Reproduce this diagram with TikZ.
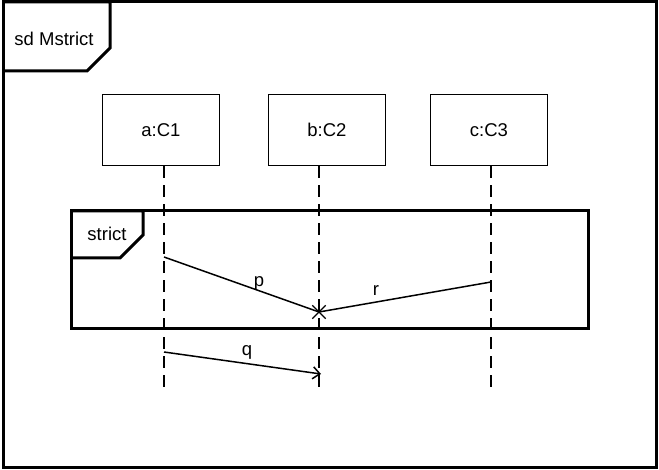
\documentclass[tikz,border=0pt]{standalone}
\usepackage{fontspec}
\setmainfont{Liberation Sans}
\usetikzlibrary{shapes.misc, arrows.meta}

\begin{document}
\begin{tikzpicture}[x=1pt, y=-1pt, >={Straight Barb[length=7pt, width=12pt]},
  box/.style = {draw, line width=1.6pt, minimum width=117pt, minimum height=71pt},
  life/.style = {line width=1.4pt, dash pattern=on 12pt off 7pt},
  frame/.style = {line width=3pt},
  msg/.style = {line width=1.5pt},
  every node/.style = {font=\fontsize{18.5}{22}\selectfont}]
\useasboundingbox (0,0) rectangle (659,470);
% outer frame
\draw[frame] (3,2) rectangle (656,467);
\draw[frame] (3,2) -- (110,2) -- (110,48) -- (87,71) -- (3,71);
\node (title) at (54,39) {sd Mstrict};
% lifelines
\node[box] (a) at (161,130) {a:C1};
\node[box] (b) at (327,130) {b:C2};
\node[box] (c) at (489,130) {c:C3};
\coordinate (la) at (164,393);
\coordinate (lb) at (319,393);
\coordinate (lc) at (491,393);
\draw[life] (a.south -| la) -- (la);
\draw[life] (b.south -| lb) -- (lb);
\draw[life] (c.south -| lc) -- (lc);
% strict fragment
\draw[frame] (71,211) rectangle (588,329);
\draw[frame] (71,211) -- (143,211) -- (143,235) -- (120,258) -- (71,258);
\node (strict) at (107,234) {strict};
% messages
\coordinate (ps) at (164,257);
\coordinate (rs) at (491,282);
\coordinate (qs) at (164,352);
\coordinate (qe) at (321,374);
\node[draw, cross out, line width=1.3pt, minimum size=12pt, inner sep=0pt] (x) at (319,312) {};
\draw[msg] (ps) -- (x.center);
\draw[msg] (rs) -- (x.center);
\draw[msg, ->] (qs) -- (qe);
\node (p) at (259,283) {p};
\node (r) at (376,291) {r};
\node (q) at (247,352) {q};
\end{tikzpicture}
\end{document}
